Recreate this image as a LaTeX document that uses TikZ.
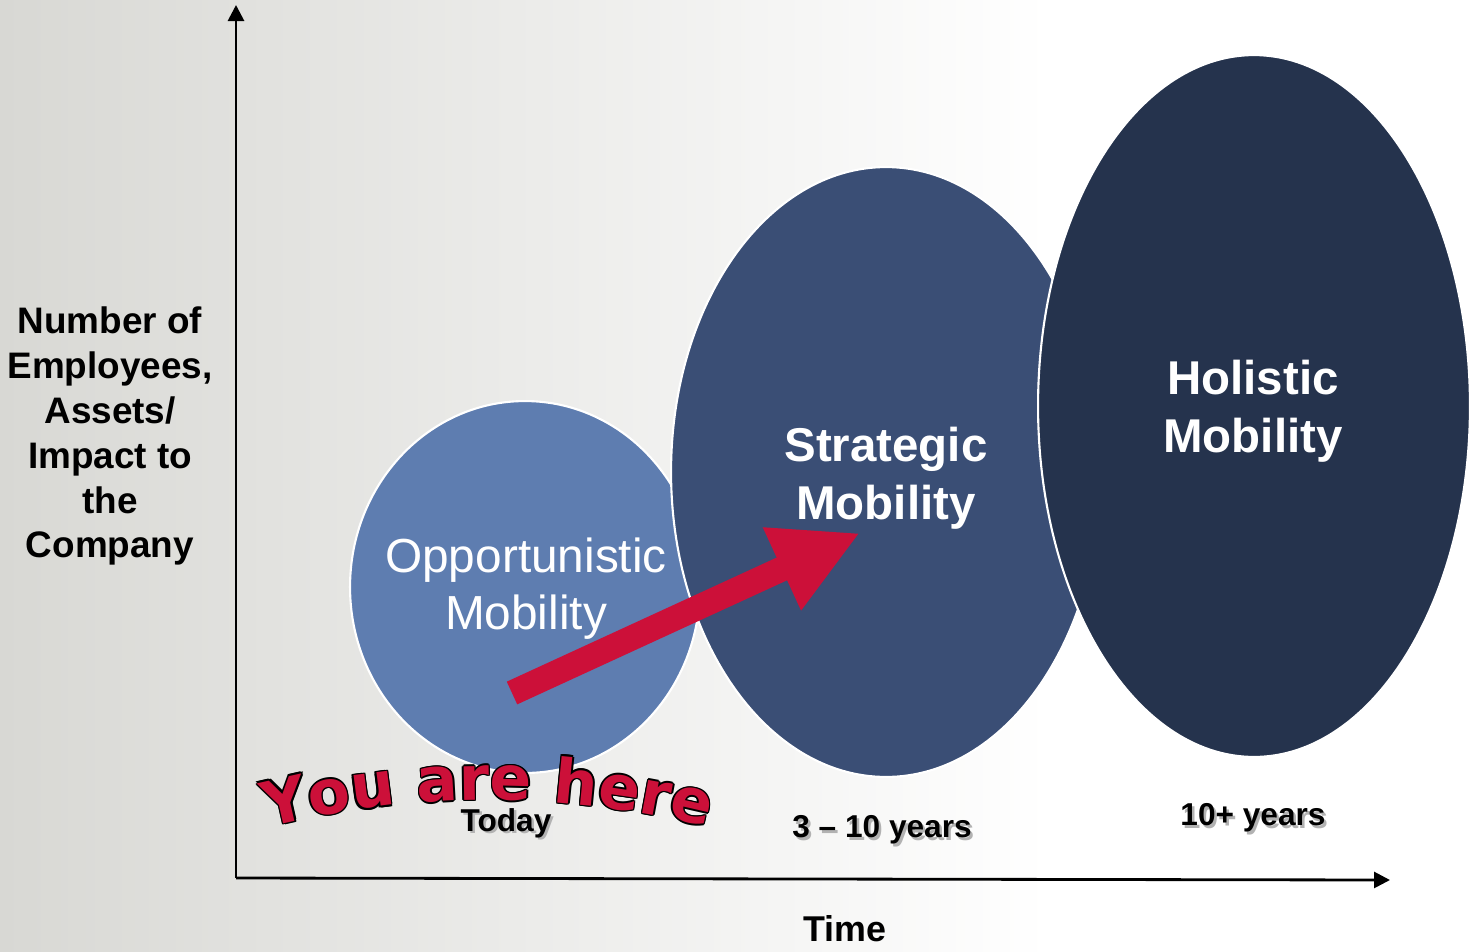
\documentclass[tikz,border=0pt]{standalone}
\usepackage{fontspec}
\setmainfont{Liberation Sans}
\newfontfamily\herefont{DejaVu Sans}
\usetikzlibrary{shapes.geometric, arrows.meta, decorations.text}

\definecolor{bggray}{HTML}{D8D8D4}
\definecolor{oppblue}{HTML}{5E7DB0}
\definecolor{stratblue}{HTML}{3A4E75}
\definecolor{holblue}{HTML}{25334D}
\definecolor{herered}{HTML}{CC1039}

\begin{document}
\begin{tikzpicture}[x=0.02cm, y=0.02cm,
    bubble/.style={ellipse, draw=white, line width=1.2pt, inner sep=0pt},
    bubbletext/.style={text=white, align=center, inner sep=0pt},
    yearlabel/.style={font=\bfseries\fontsize{18}{20}\selectfont, text=black},
    yearshadow/.style={yearlabel, text=black!30, xshift=0.05cm, yshift=-0.05cm},
    axisline/.style={line width=1.6pt, -{Triangle[length=0.32cm, width=0.32cm]}}]

        \shade[left color=bggray, right color=white] (0, 0) rectangle (1050, -951);
        \fill[white] (1050, 0) rectangle (1470, -951);
        \useasboundingbox (0, 0) rectangle (1470, -951);

        \coordinate (origin) at (236, -878);
        \coordinate (ytip) at (236, -5);
        \coordinate (xtip) at (1390, -880);
        \draw[axisline] (origin) -- (ytip);
        \draw[axisline] (origin) -- (xtip);

        \node[align=center, font=\bfseries\fontsize{21}{25.6}\selectfont] (ylabel) at (110, -436) {Number of\\Employees,\\Assets/\\Impact to\\the\\Company};
        \node[font=\bfseries\fontsize{20.4}{24}\selectfont] (time) at (845, -929) {Time};

        \node[bubble, fill=oppblue, minimum width=7cm, minimum height=7.44cm] (opp) at (525, -587) {};
        \node[bubble, fill=stratblue, minimum width=8.6cm, minimum height=12.2cm] (strat) at (886, -472) {};
        \node[bubble, fill=holblue, minimum width=8.64cm, minimum height=14.04cm] (hol) at (1254, -406) {};
        \node[bubbletext, font=\fontsize{27.2}{32.4}\selectfont] (opptext) at (526, -589) {Opportunistic\\Mobility};
        \node[bubbletext, font=\bfseries\fontsize{27}{33}\selectfont] (strattext) at (886, -478) {Strategic\\Mobility};
        \node[bubbletext, font=\bfseries\fontsize{27}{33}\selectfont] (holtext) at (1253, -411) {Holistic\\Mobility};

        \coordinate (tail) at (512, -693);
        \coordinate (tip) at (860, -533);
        \draw[herered, line width=0.5cm, -{Triangle[length=1.72cm, width=1.7cm]}] (tail) -- (tip);

        \node[yearshadow] at (506, -823) {Today};
        \node[yearlabel] (today) at (506, -823) {Today};
        \node[yearshadow] at (882, -830) {3 -- 10 years};
        \node[yearlabel] (mid) at (882, -830) {3 -- 10 years};
        \node[yearshadow] at (1253, -818) {10+ years};
        \node[yearlabel] (long) at (1253, -818) {10+ years};

        \foreach \dx/\dy in {-1.5/0, 1.5/0, 0/1.5, 0/-1.5, -1.1/-1.1, 1.1/1.1, -1.1/1.1, 1.1/-1.1}
          \path[shift={(\dx, \dy)}, decorate, decoration={text along path, text align=center, text={|\herefont\bfseries\fontsize{35}{35}\selectfont\color{black}|You are here}}] (488, -1700) ++(108:900) arc[start angle=108, end angle=72, radius=900];
        \path[decorate, decoration={text along path, text align=center, text={|\herefont\bfseries\fontsize{35}{35}\selectfont\color{herered}|You are here}}] (488, -1700) ++(108:900) arc[start angle=108, end angle=72, radius=900];

      \end{tikzpicture}
\end{document}
